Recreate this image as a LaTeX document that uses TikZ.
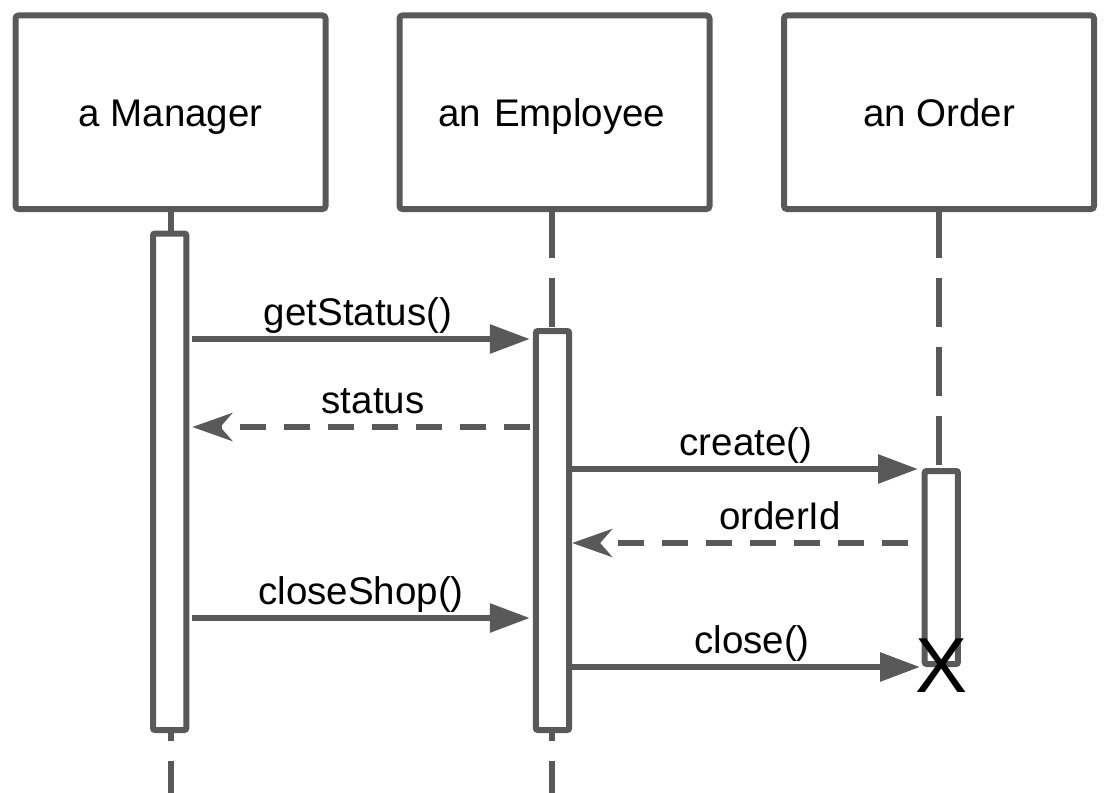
\documentclass[tikz,border=0pt]{standalone}
\usepackage{fontspec}
\setmainfont{Liberation Sans}
\usetikzlibrary{arrows.meta}
\definecolor{ln}{RGB}{89,89,89}
\begin{document}
\begin{tikzpicture}[x=1pt,y=-1pt,
  obj/.style={draw=ln, line width=6pt, rounded corners=3pt, fill=white,
    minimum width=310pt, minimum height=193.5pt, inner sep=0pt, outer sep=0pt,
    font=\fontsize{38.5}{46}\selectfont, text height=28pt, text depth=0pt},
  act/.style={draw=ln, line width=6pt, rounded corners=2pt, fill=white,
    minimum width=33.3pt, inner sep=0pt, outer sep=0pt},
  life/.style={draw=ln, line width=6pt, dash pattern=on 49pt off 20pt},
  msg/.style={draw=ln, line width=6pt, -{Triangle[length=40pt,width=28pt]}},
  ret/.style={draw=ln, line width=6pt, dash pattern=on 26pt off 18pt,
    -{Stealth[length=40pt,width=28pt,inset=12pt]}},
  lbl/.style={font=\fontsize{38.5}{46}\selectfont, anchor=base, inner sep=0pt}
]
\useasboundingbox (0,0) rectangle (1110,792);

% objects
\node[obj] (m) at (170.5,112.25) {a Manager};
\node[obj, text width=300pt, align=center] (e) at (554.5,112.25) {\hspace*{-5pt}an Employee};
\node[obj] (o) at (939,112.25) {an Order};

% lifeline anchors
\coordinate (bot) at (0,800);
\coordinate (lm) at (170.5,209);
\coordinate (le) at (552,209);
\coordinate (lo) at (939,209);

% activations (defined first so the lifelines can end on them)
\path[use as bounding box] (0,0) rectangle (1110,792);
\draw[life] (lm) -- (lm |- bot);
\draw[life] (le) -- (le |- bot);
\draw[life] (lo) -- (lo |- 0,471);

\node[act, minimum height=496.5pt] (am) at (169.65,481.75) {};
\node[act, minimum height=399pt] (ae) at (552.5,530.5) {};
\node[act, minimum height=193pt] (ao) at (941.3,567.5) {};

% message levels
\coordinate (y1) at (0,339);
\coordinate (y2) at (0,427);
\coordinate (y3) at (0,469);
\coordinate (y4) at (0,543);
\coordinate (y5) at (0,618);
\coordinate (y6) at (0,667);

\draw[msg, shorten <=6pt, shorten >=6pt] (am.east |- y1) -- (ae.west |- y1);
\draw[ret, shorten <=6pt, shorten >=6pt] (ae.west |- y2) -- (am.east |- y2);
\draw[msg, shorten <=3pt, shorten >=6.65pt] (ae.east |- y3) -- (ao.west |- y3);
\draw[ret, shorten <=16.65pt, shorten >=3pt] (ao.west |- y4) -- (ae.east |- y4);
\draw[msg, shorten <=6pt, shorten >=6pt] (am.east |- y5) -- (ae.west |- y5);
\draw[msg, shorten <=3pt, shorten >=4.65pt] (ae.east |- y6) -- (ao.west |- y6);

% labels
\node[lbl] (lgs) at (358,325) {getStatus()};
\node[lbl] (lst) at (373,413) {status};
\node[lbl] (lcr) at (746,455) {create()};
\node[lbl] (loi) at (780,529) {orderId};
\node[lbl] (lcs) at (361,604) {closeShop()};
\node[lbl] (lcl) at (752,653) {close()};

% destruction
\node[font=\fontsize{78}{80}\selectfont, inner sep=0pt, text height=55.5pt, text depth=0pt] (x) at (941,664.5) {X};
\end{tikzpicture}
\end{document}
